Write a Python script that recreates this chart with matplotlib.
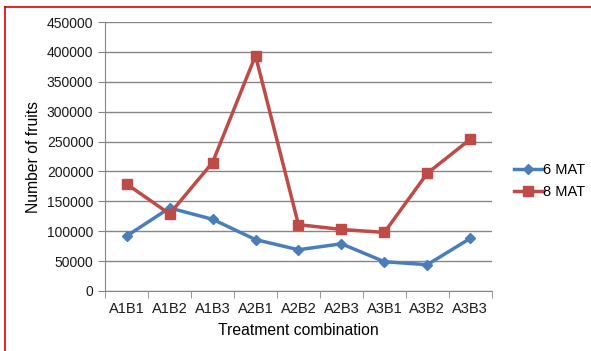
import numpy as np
import matplotlib
matplotlib.use('Agg')
import matplotlib.pyplot as plt
import matplotlib.ticker as ticker
from matplotlib.lines import Line2D

plt.rcParams['font.family'] = ['Liberation Sans', 'DejaVu Sans']

treatments = ['A1B1', 'A1B2', 'A1B3', 'A2B1', 'A2B2', 'A2B3', 'A3B1', 'A3B2', 'A3B3']
mat6 = [92000, 139000, 120000, 86000, 69000, 79000, 49000, 44000, 88000]
mat8 = [179000, 129000, 215000, 394000, 111000, 103000, 98000, 197000, 254000]

fig = plt.figure(figsize=(5.91, 3.51), dpi=100)
ax = fig.add_axes([0.178, 0.171, 0.654, 0.766])

x = np.arange(len(treatments))
ax.plot(x, mat6, color='#4A7EBB', lw=2.5, marker='D', ms=5, label='6 MAT')
ax.plot(x, mat8, color='#BE4B48', lw=2.5, marker='s', ms=7, label='8 MAT')

ax.set_xlim(-0.5, len(treatments) - 0.5)
ax.set_ylim(0, 450000)
ax.yaxis.set_major_locator(ticker.MultipleLocator(50000))
ax.yaxis.grid(True, color='#868686', lw=1)
ax.set_axisbelow(True)

ax.set_xticks(x)
ax.set_xticklabels(treatments)
ax.set_xticks(np.arange(-0.5, len(treatments)), minor=True)
ax.tick_params(axis='x', which='major', length=0, labelsize=10.5, pad=8, colors='#1a1a1a')
ax.tick_params(axis='x', which='minor', length=5, color='#868686')
ax.tick_params(axis='y', length=5, color='#868686', labelsize=10, colors='#1a1a1a')

for s in ['top', 'right']:
    ax.spines[s].set_visible(False)
for s in ['left', 'bottom']:
    ax.spines[s].set_color('#868686')

ax.set_xlabel('Treatment combination', fontsize=11.3, labelpad=5)
ax.set_ylabel('Number of fruits', fontsize=11.3, labelpad=4)

ax.legend(loc='center left', bbox_to_anchor=(1.03, 0.41), frameon=False,
          fontsize=10.5, handlelength=2.0, handletextpad=0.05, labelspacing=0.55,
          borderpad=0.2)

# frame around the figure
fig.add_artist(Line2D([0.0085, 1.0], [0.980, 0.980], color='#e00000', lw=1.2,
                      transform=fig.transFigure))
fig.add_artist(Line2D([0.0085, 0.0085], [0.0, 0.980], color='#e00000', lw=1.2,
                      transform=fig.transFigure))

fig.savefig('out.png')
